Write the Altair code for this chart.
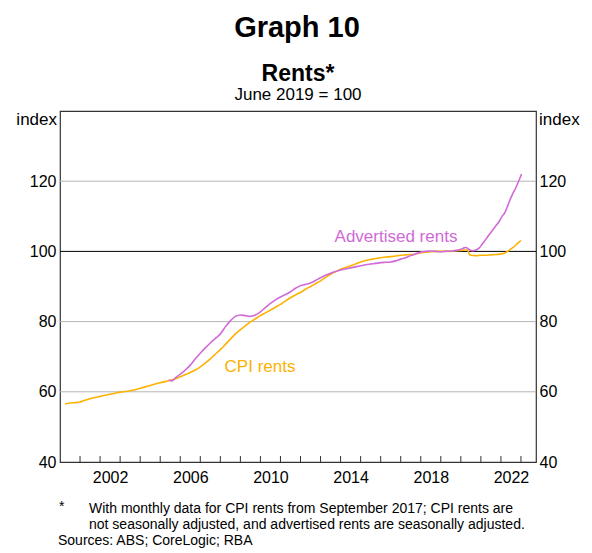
import altair as alt
import pandas as pd

# ---------------- data ----------------
cpi_x = [2000.25, 2000.5, 2000.75, 2001.0, 2001.25, 2001.5, 2001.75, 2002.0, 2002.25, 2002.5,
         2002.75, 2003.0, 2003.25, 2003.5, 2003.75, 2004.0, 2004.25, 2004.5, 2004.75, 2005.0,
         2005.25, 2005.5, 2005.75, 2006.0, 2006.25, 2006.5, 2006.75, 2007.0, 2007.25, 2007.5,
         2007.75, 2008.0, 2008.25, 2008.5, 2008.75, 2009.0, 2009.25, 2009.5, 2009.75, 2010.0,
         2010.25, 2010.5, 2010.75, 2011.0, 2011.25, 2011.5, 2011.75, 2012.0, 2012.25, 2012.5,
         2012.75, 2013.0, 2013.25, 2013.5, 2013.75, 2014.0, 2014.25, 2014.5, 2014.75, 2015.0,
         2015.25, 2015.5, 2015.75, 2016.0, 2016.25, 2016.5, 2016.75, 2017.0, 2017.25, 2017.5,
         2017.67, 2017.83, 2018.0, 2018.25, 2018.5, 2018.75, 2019.0, 2019.25, 2019.5, 2019.75,
         2020.0, 2020.25, 2020.33, 2020.42, 2020.5, 2020.75, 2021.0, 2021.25, 2021.5, 2021.75,
         2022.0, 2022.17, 2022.33, 2022.5, 2022.67, 2022.83, 2023.0]
cpi_y = [56.5, 56.8, 56.9, 57.1, 57.6, 58.0, 58.4, 58.7, 59.0, 59.3,
         59.6, 59.9, 60.1, 60.3, 60.6, 61.0, 61.4, 61.8, 62.2, 62.6,
         62.9, 63.3, 63.7, 64.3, 64.9, 65.5, 66.2, 67.1, 68.2, 69.4,
         70.7, 72.0, 73.5, 75.0, 76.5, 77.7, 78.8, 79.9, 80.8, 81.7,
         82.5, 83.3, 84.1, 84.9, 85.9, 86.8, 87.6, 88.3, 89.2, 90.0,
         90.8, 91.6, 92.6, 93.5, 94.2, 94.9, 95.4, 95.9, 96.4, 97.0,
         97.4, 97.7, 98.0, 98.2, 98.4, 98.5, 98.7, 98.9, 99.0, 99.1,
         99.2, 99.4, 99.6, 99.8, 99.9, 100.0, 100.0, 100.1, 100.0, 100.2,
         100.3, 100.4, 100.4, 99.2, 98.9, 98.8, 98.9, 98.9, 99.0, 99.1,
         99.3, 99.5, 100.0, 100.7, 101.4, 102.3, 103.1]

adv_x = [2005.42, 2005.5, 2005.58, 2005.75, 2006.0, 2006.25, 2006.5, 2006.75, 2007.0, 2007.25,
         2007.5, 2007.75, 2008.0, 2008.25, 2008.5, 2008.75, 2009.0, 2009.25, 2009.5, 2009.75,
         2010.0, 2010.25, 2010.5, 2010.75, 2011.0, 2011.25, 2011.5, 2011.75, 2012.0, 2012.25,
         2012.5, 2012.75, 2013.0, 2013.25, 2013.5, 2013.75, 2014.0, 2014.25, 2014.5, 2014.75,
         2015.0, 2015.25, 2015.5, 2015.75, 2016.0, 2016.25, 2016.5, 2016.75, 2017.0, 2017.25,
         2017.5, 2017.75, 2018.0, 2018.25, 2018.5, 2018.75, 2019.0, 2019.25, 2019.5, 2019.75,
         2020.0, 2020.17, 2020.25, 2020.42, 2020.58, 2020.75, 2020.92, 2021.08, 2021.25, 2021.42,
         2021.58, 2021.75, 2021.92, 2022.08, 2022.17, 2022.25, 2022.42, 2022.58, 2022.75, 2022.92,
         2023.03]
adv_y = [63.4, 63.2, 63.1, 63.9, 65.0, 66.2, 67.6, 69.4, 71.0, 72.5,
         73.9, 75.2, 76.5, 78.5, 80.2, 81.5, 81.9, 81.7, 81.5, 81.9,
         82.8, 84.0, 85.2, 86.2, 87.0, 87.7, 88.5, 89.5, 90.2, 90.6,
         91.0, 91.7, 92.5, 93.2, 93.8, 94.3, 94.7, 95.0, 95.3, 95.6,
         95.9, 96.2, 96.4, 96.6, 96.8, 96.9, 97.0, 97.3, 97.8, 98.2,
         98.8, 99.3, 99.8, 100.0, 100.1, 100.0, 99.9, 100.0, 100.1, 100.3,
         100.6, 101.0, 101.1, 100.5, 100.2, 100.4, 101.0, 102.2, 103.5, 104.8,
         106.0, 107.3, 108.6, 110.2, 110.8, 111.7, 114.2, 116.3, 118.2, 120.5,
         122.0]

series_names = ["CPI rents", "Advertised rents"]
grid_values = [60, 80, 100, 120]
y_tick_values = [40, 60, 80, 100, 120]
year_ticks = list(range(2001, 2024))
year_labels = [2002, 2006, 2010, 2014, 2018, 2022]

title = "Graph 10"
subtitle = "Rents*"
subsubtitle = "June 2019 = 100"
unit = "index"
footnote_star = "*"
footnote_lines = ["With monthly data for CPI rents from September 2017; CPI rents are",
                  "not seasonally adjusted, and advertised rents are seasonally adjusted."]
sources = "Sources: ABS; CoreLogic; RBA"

# ---------------- style ----------------
FONT = "Liberation Sans"
ORANGE = "#FDB100"
PURPLE = "#D06AD8"
W, H = 476, 351

df = pd.concat([
    pd.DataFrame({"year": cpi_x, "value": cpi_y, "series": series_names[0]}),
    pd.DataFrame({"year": adv_x, "value": adv_y, "series": series_names[1]}),
])

xscale = alt.Scale(domain=[2000, 2023.75], nice=False, zero=False)
yscale = alt.Scale(domain=[40, 140], nice=False, zero=False)

x_axis = alt.Axis(values=[y + 0.5 for y in year_labels],
                  labelExpr="'' + floor(datum.value)",
                  tickSize=0, domain=False, grid=False, labelPadding=7,
                  title=None, labelFontSize=16, labelFont=FONT, labelColor="black",
                  labelFlush=False)

grid = alt.Chart(pd.DataFrame({"value": grid_values})).mark_rule(strokeWidth=1).encode(
    y=alt.Y("value:Q", scale=yscale,
            axis=alt.Axis(orient="right", values=y_tick_values, tickSize=0, domain=False,
                          grid=False, labelPadding=3, title=None, labelFontSize=16,
                          labelFont=FONT, labelColor="black", labelFlush=False)),
    color=alt.condition(alt.datum.value == 100, alt.value("#000000"), alt.value("#b4b4b4")),
)

ticks = alt.Chart(pd.DataFrame({"year": year_ticks})).mark_rule(
    color="#333333", strokeWidth=1).encode(
    x=alt.X("year:Q", scale=xscale, axis=x_axis),
    y=alt.value(H),
    y2=alt.value(H - 6),
)

lines = alt.Chart(df).mark_line(strokeWidth=1.6, interpolate="monotone").encode(
    x=alt.X("year:Q", scale=xscale, axis=x_axis),
    y=alt.Y("value:Q", scale=yscale,
            axis=alt.Axis(orient="left", values=y_tick_values, tickSize=0, domain=False,
                          grid=False, labelPadding=4, title=None, labelFontSize=16,
                          labelFont=FONT, labelColor="black", labelFlush=False)),
    color=alt.Color("series:N", scale=alt.Scale(domain=series_names, range=[ORANGE, PURPLE]),
                    legend=None),
    order=alt.Order("year:Q"),
)


def txt(text, x, y, size, align="left", weight="normal", color="black"):
    return alt.Chart(pd.DataFrame({"t": [text]})).mark_text(
        align=align, baseline="alphabetic", font=FONT, fontSize=size,
        fontWeight=weight, color=color).encode(
        text="t:N", x=alt.value(x), y=alt.value(y))


texts = [
    txt(title, 237, -74, 29, "center", "bold"),
    txt(subtitle, 238, -30, 23, "center", "bold"),
    txt(subsubtitle, 238, -11, 17, "center"),
    txt(unit, -3, 14, 17, "right"),
    txt(unit, W + 3, 14, 17, "left"),
    txt(series_names[1], 336, 131, 17, "center", color=PURPLE),
    txt(series_names[0], 200, 261, 17, "center", color=ORANGE),
    txt(footnote_star, -1, 400, 14, "left"),
    txt(footnote_lines[0], 29, 402, 14, "left"),
    txt(footnote_lines[1], 29, 418, 14, "left"),
    txt(sources, -2, 434, 14, "left"),
]

chart = alt.layer(grid, ticks, lines, *texts).resolve_scale(y="independent").properties(
    width=W, height=H,
    padding={"left": 52, "top": 103, "right": 48, "bottom": 91},
    autosize=alt.AutoSizeParams(type="none"),
    background="white",
).configure_view(stroke="#333333", strokeWidth=1.2)

chart.save("out.html", embed_options={"renderer": "svg", "actions": False})
